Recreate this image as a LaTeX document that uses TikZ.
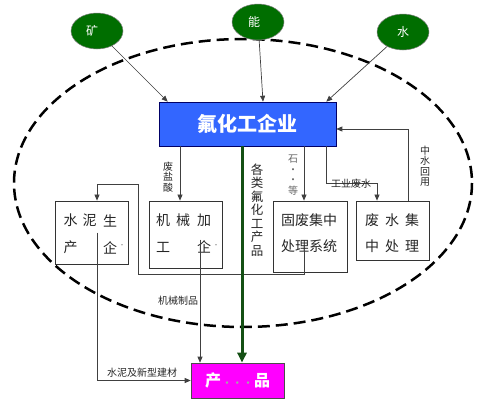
\documentclass[tikz,border=0pt]{standalone}
\usepackage{fontspec}
\setmainfont{Noto Sans CJK SC}
\usetikzlibrary{arrows.meta,calc,shapes.geometric}
\definecolor{resgreen}{RGB}{0,110,0}
\definecolor{bluefill}{RGB}{51,102,255}
\definecolor{darkarrow}{RGB}{20,80,20}
\definecolor{prodfill}{RGB}{255,0,255}
\begin{document}
\begin{tikzpicture}[x=1pt,y=-1pt,
  res/.style={ellipse, fill=resgreen, draw=black!50, line width=0.5pt, minimum width=52pt, minimum height=36pt, inner sep=0pt, text=white, font=\fontsize{12}{12}\selectfont},
  wbox/.style={draw=black!80, line width=0.8pt, inner sep=0pt},
  ch/.style={inner sep=0pt, font=\fontsize{14}{14}\selectfont, text=black!85},
  lbl/.style={inner sep=0pt, font=\fontsize{10}{10.5}\selectfont, align=center, text=black!85},
  ln/.style={draw=black!75, line width=0.7pt},
  arr/.style={ln, -{Triangle[length=6pt,width=5pt]}},
  garr/.style={draw=darkarrow, line width=3pt, -{Triangle[length=10pt,width=9pt]}},
  dotm/.style={inner sep=0pt, font=\fontsize{6}{6}\selectfont, text=black!60}
]
\useasboundingbox (0,0) rectangle (497,407);

% dashed boundary
\draw[line width=2.5pt, dash pattern=on 12pt off 6pt] (243,183) ellipse [x radius=229, y radius=144];

% resources
\node[res] (mine) at (97,31) {\hspace{-10pt}\raisebox{-3pt}{矿}};
\node[res] (energy) at (258,22) {\hspace{-8pt}\raisebox{-4pt}{能}};
\node[res] (waterres) at (403,32) {\raisebox{-5pt}{水}};

% main enterprise
\node[draw=blue!40!black, line width=0.6pt, fill=bluefill, minimum width=177pt, minimum height=44pt, inner sep=0pt, text=white, font=\fontsize{20}{20}\selectfont\bfseries] (chem) at (247.5,124) {氟化工企业};

% boxes
\node[wbox, minimum width=73pt, minimum height=63pt] (cement) at (91.5,232.5) {};
\node[wbox, minimum width=73pt, minimum height=67pt] (mech) at (185.5,234.5) {};
\node[wbox, minimum width=74pt, minimum height=71pt] (solid) at (310,236.5) {};
\node[wbox, minimum width=73pt, minimum height=59pt] (wwt) at (392.5,230.5) {};
\node[fill=prodfill, draw=black!70, line width=0.6pt, minimum width=93pt, minimum height=35pt, inner sep=0pt, text=white, font=\fontsize{16}{16}\selectfont\bfseries] (prod) at (237.5,380.5) {产\textcolor{black!35}{\fontsize{9}{9}\selectfont\,·\,·\,·\,}品};

% box texts
\node[ch] (c1) at (70.5,220.5) {水};
\node[ch] (c2) at (89.5,220.5) {泥};
\node[ch] (c3) at (110,220.5) {生};
\node[ch] (c4) at (70.5,247.5) {产};
\node[ch] (c5) at (110,247.5) {企};
\node[dotm] (c6) at (122,246) {·};

\node[ch] (m1) at (163,220) {机};
\node[ch] (m2) at (183,220) {械};
\node[ch] (m3) at (204,220) {加};
\node[ch] (m4) at (163,247) {工};
\node[ch] (m5) at (204,247) {企};
\node[dotm] (m6) at (216,246) {·};

\node[ch] (s1) at (309,220) {固废集中};
\node[ch] (s2) at (309,246) {处理系统};

\node[ch] (w1) at (372,220) {废};
\node[ch] (w2) at (392,220) {水};
\node[ch] (w3) at (412,220) {集};
\node[ch] (w4) at (372,246) {中};
\node[ch] (w5) at (392,246) {处};
\node[ch] (w6) at (412,246) {理};

% connectors
\draw[arr] (mine) -- ([xshift=9pt]chem.north west);
\draw[arr] (energy) -- ([xshift=15.5pt]chem.north);
\draw[arr] (waterres) -- ([xshift=-10pt]chem.north east);
\draw[arr] ([xshift=15.5pt]wwt.north) |- ([yshift=-5pt]chem.east);
\draw[arr] ([xshift=-67.5pt]chem.south) -- ([xshift=-5.5pt]mech.north);
\draw[arr] ([xshift=56.5pt]chem.south) -- ([xshift=-6pt]solid.north);
\draw[arr] ([xshift=78.5pt]chem.south) -- ++(0,37) -| ([xshift=-15.5pt]wwt.north);
\draw[arr] ([xshift=-6pt,yshift=-13.5pt]solid.center) -- ++(0,24) -| ++(-166,-90) -| ([xshift=5.5pt]cement.north);
\draw[arr] ([xshift=5.5pt]cement.center) |- (prod.west);
\draw[arr] ([xshift=14.5pt,yshift=-5pt]mech.center) -- ([xshift=-37.5pt]prod.north);
\draw[garr] ([xshift=-5.5pt]chem.south) -- ([xshift=4.5pt]prod.north);

% labels
\node[lbl] (l1) at (168,177) {废\\盐\\酸};
\node[lbl, font=\fontsize{12.5}{13.5}\selectfont] (l2) at (257,210) {各\\类\\氟\\化\\工\\产\\品};
\node[lbl, text=black!60] (l3) at (293,175) {石\\·\\·\\等};
\node[lbl] (l4) at (351,184) {工业废水};
\node[lbl] (l5) at (425,166) {中\\水\\回\\用};
\node[lbl] (l6) at (178,301) {机械制品};
\node[lbl] (l7) at (142,373) {水泥及新型建材};
\end{tikzpicture}
\end{document}
